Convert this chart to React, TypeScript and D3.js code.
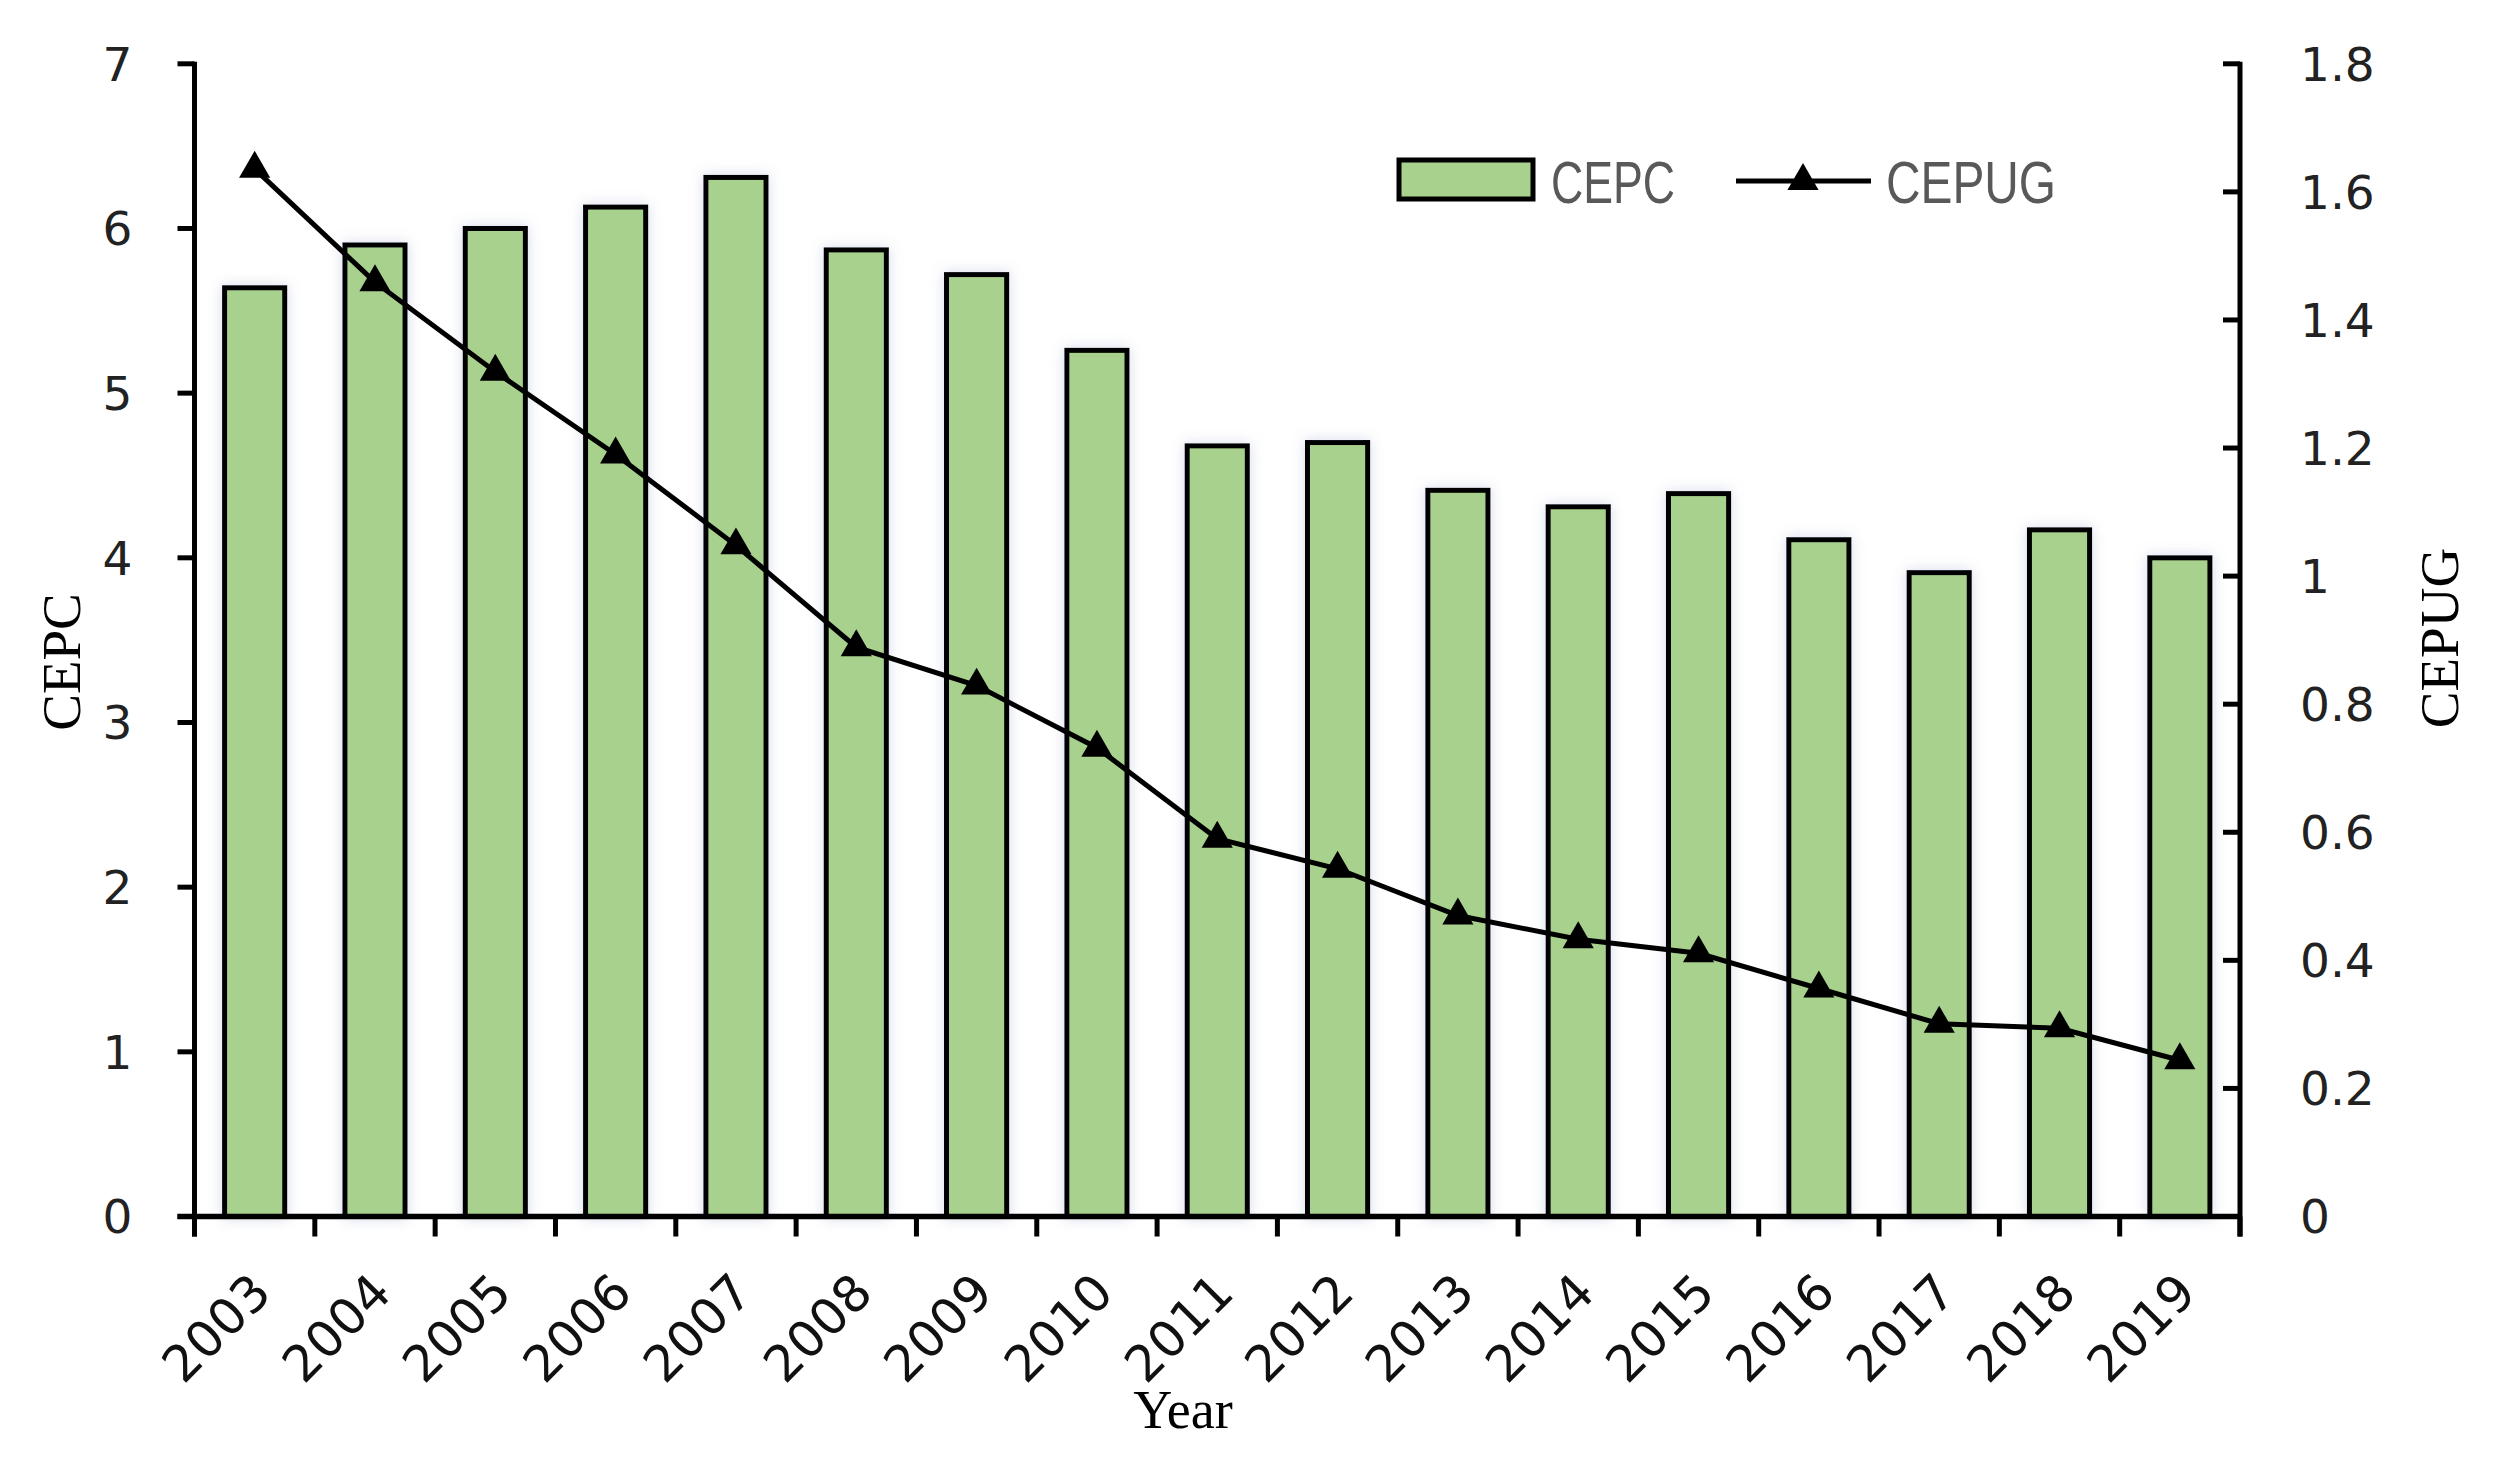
import React from "react";
import * as d3 from "d3";

const years = ["2003","2004","2005","2006","2007","2008","2009","2010","2011","2012","2013","2014","2015","2016","2017","2018","2019"];
const cepc = [5.64,5.90,6.00,6.13,6.31,5.87,5.72,5.26,4.68,4.70,4.41,4.31,4.39,4.11,3.91,4.17,4.00];
const cepug = [1.636,1.459,1.319,1.190,1.048,0.889,0.829,0.732,0.590,0.543,0.470,0.433,0.411,0.356,0.301,0.294,0.244];
const leftTicks = [0,1,2,3,4,5,6,7];
const rightTicks = [0,0.2,0.4,0.6,0.8,1,1.2,1.4,1.6,1.8];

const W = 2500, H = 1472;
const X0 = 194.5, X1 = 2240, Y0 = 1216.5, YT = 63.8;
const tickFont = "'DejaVu Sans', Verdana, sans-serif";
const serif = "'Liberation Serif', 'Times New Roman', serif";
const legendFont = "'Liberation Sans', Arial, sans-serif";

export default function App() {
  const x = d3.scaleBand<string>().domain(years).range([X0, X1]).paddingInner(0.5).paddingOuter(0.25);
  const step = x.step();
  const yL = d3.scaleLinear().domain([0, 7]).range([Y0, YT]);
  const yR = d3.scaleLinear().domain([0, 1.8]).range([Y0, YT]);
  const cx = (y: string) => (x(y) as number) + x.bandwidth() / 2;
  const line = d3.line<number>().x((_, i) => cx(years[i])).y(d => yR(d));
  const tri = d3.symbol().type(d3.symbolTriangle).size(420)();
  const boundaries = d3.range(years.length + 1).map(i => X0 + i * step);

  return (
    <svg width={W} height={H} style={{ position: "absolute", left: 0, top: 0, background: "#fff" }}>
      <defs>
        <filter id="sh" x="-30%" y="-5%" width="160%" height="110%">
          <feDropShadow dx="0" dy="0" stdDeviation="7" floodColor="#8e98c4" floodOpacity="0.35" />
        </filter>
      </defs>
      <rect width={W} height={H} fill="#fff" />
      {/* bars */}
      {years.map((yr, i) => (
        <rect key={yr} x={x(yr)} y={yL(cepc[i])} width={x.bandwidth()} height={Y0 - yL(cepc[i])}
          fill="#A9D18E" stroke="#000" strokeWidth={5} filter="url(#sh)" />
      ))}
      {/* axes */}
      <line x1={X0} x2={X0} y1={YT - 2} y2={Y0 + 20} stroke="#000" strokeWidth={5} />
      <line x1={X1} x2={X1} y1={YT - 2} y2={Y0 + 20} stroke="#000" strokeWidth={5} />
      <line x1={X0 - 17} x2={X1} y1={Y0} y2={Y0} stroke="#000" strokeWidth={5.5} />
      {leftTicks.map(t => (
        <g key={"l" + t}>
          <line x1={X0 - 17} x2={X0} y1={yL(t)} y2={yL(t)} stroke="#000" strokeWidth={5} />
          <text x={X0 - 62} y={yL(t)} dy="0.36em" textAnchor="end" fontFamily={tickFont} fontSize={47} fill="#222">{t}</text>
        </g>
      ))}
      {rightTicks.map(t => (
        <g key={"r" + t}>
          <line x1={X1 - 17} x2={X1} y1={yR(t)} y2={yR(t)} stroke="#000" strokeWidth={5} />
          <text x={X1 + 60} y={yR(t)} dy="0.36em" textAnchor="start" fontFamily={tickFont} fontSize={47} fill="#222">{t}</text>
        </g>
      ))}
      {boundaries.map((b, i) => (
        <line key={"b" + i} x1={b} x2={b} y1={Y0} y2={Y0 + 20} stroke="#000" strokeWidth={5} />
      ))}
      {years.map(yr => (
        <text key={"t" + yr} transform={`translate(${cx(yr) + 6},${Y0 + 66}) rotate(-45)`} textAnchor="end" dy="0.36em"
          fontFamily={tickFont} fontSize={50} fill="#111">{yr}</text>
      ))}
      {/* line series */}
      <path d={line(cepug) as string} fill="none" stroke="#000" strokeWidth={5} />
      {cepug.map((v, i) => (
        <path key={"m" + i} d={tri as string} transform={`translate(${cx(years[i])},${yR(v)})`} fill="#000" />
      ))}
      {/* axis titles */}
      <text transform={`translate(${80},${662}) rotate(-90)`} textAnchor="middle" fontFamily={serif} fontSize={55} fill="#000">CEPC</text>
      <text transform={`translate(${2458},${638}) rotate(-90)`} textAnchor="middle" fontFamily={serif} fontSize={55} fill="#000">CEPUG</text>
      <text x={1183} y={1428} textAnchor="middle" fontFamily={serif} fontSize={54} fill="#000">Year</text>
      {/* legend */}
      <rect x={1399} y={160} width={134} height={39} fill="#A9D18E" stroke="#000" strokeWidth={5} />
      <text x={1551} y={181} dy="0.36em" fontFamily={legendFont} fontSize={60} fill="#595959"
        textLength={124} lengthAdjust="spacingAndGlyphs">CEPC</text>
      <line x1={1736} x2={1871} y1={181} y2={181} stroke="#000" strokeWidth={5} />
      <path d={tri as string} transform="translate(1803,181)" fill="#000" />
      <text x={1886} y={181} dy="0.36em" fontFamily={legendFont} fontSize={60} fill="#595959"
        textLength={170} lengthAdjust="spacingAndGlyphs">CEPUG</text>
    </svg>
  );
}
